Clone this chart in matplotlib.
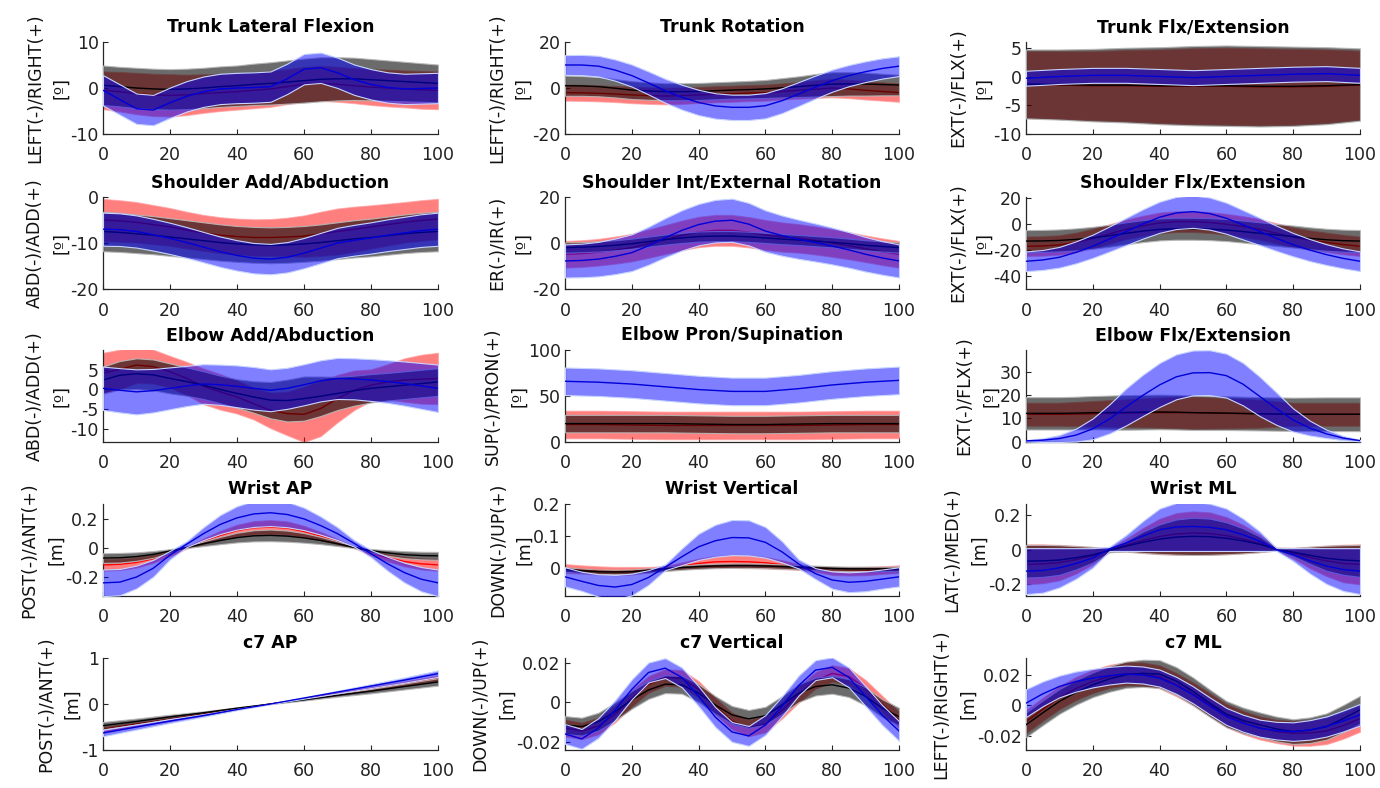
import numpy as np
import matplotlib
matplotlib.use("Agg")
import matplotlib.pyplot as plt
from matplotlib.ticker import FuncFormatter

plt.rcParams['font.family'] = ['DejaVu Sans']
plt.rcParams['axes.unicode_minus'] = False

# ---------------- sample points (% of cycle) ----------------
X10 = [0, 10, 20, 30, 40, 50, 60, 70, 80, 90, 100]
X5 = [0, 5, 10, 15, 20, 25, 30, 35, 40, 45, 50, 55, 60, 65, 70, 75, 80, 85, 90, 95, 100]

# ---------------- Trunk Lateral Flexion (X5) ----------------
tlf_ctrl_mean = [0.6, 0.3, 0.0, -0.2, -0.3, -0.2, 0.0, 0.3, 0.5, 0.8, 1.0, 1.3, 1.6, 1.9, 2.0, 2.0, 1.8, 1.6, 1.4, 1.2, 1.0]
tlf_ctrl_sd = [4.3, 4.3, 4.4, 4.4, 4.4, 4.4, 4.4, 4.4, 4.4, 4.5, 4.6, 4.7, 4.8, 4.8, 4.7, 4.6, 4.5, 4.4, 4.3, 4.2, 4.1]
tlf_red_mean = [-0.5, -0.8, -1.2, -1.5, -1.6, -1.5, -1.2, -1.0, -0.8, -0.5, -0.2, 0.3, 0.8, 1.0, 0.8, 0.5, 0.2, 0.0, -0.2, -0.4, -0.5]
tlf_red_sd = [4.1, 4.3, 4.5, 4.6, 4.6, 4.4, 4.2, 4.0, 3.9, 3.9, 3.9, 3.8, 3.8, 3.8, 3.8, 3.8, 3.9, 4.0, 4.0, 4.1, 4.1]
tlf_blue_mean = [-0.5, -2.5, -4.5, -4.8, -3.2, -1.8, -0.8, -0.2, 0.0, 0.1, 0.3, 2.0, 4.1, 4.4, 3.3, 1.8, 0.8, 0.1, -0.2, -0.1, 0.0]
tlf_blue_sd = [3.3, 3.3, 3.3, 3.3, 3.3, 3.3, 3.3, 3.3, 3.3, 3.3, 3.3, 3.3, 3.3, 3.3, 3.3, 3.3, 3.3, 3.3, 3.3, 3.3, 3.3]

# ---------------- Trunk Rotation (X5) ----------------
tr_ctrl_mean = [1.0, 0.9, 0.6, -0.1, -0.9, -1.3, -1.6, -1.6, -1.5, -1.2, -0.9, -0.7, -0.4, 0.1, 0.6, 1.2, 1.7, 1.8, 1.7, 1.5, 1.3]
tr_ctrl_sd = [4.4, 4.3, 4.2, 4.0, 3.9, 3.8, 3.7, 3.7, 3.7, 3.7, 3.7, 3.8, 3.9, 4.2, 4.5, 4.9, 5.2, 5.1, 5.0, 4.7, 4.5]
tr_red_mean = [-2.0, -2.1, -2.3, -2.6, -3.0, -3.3, -3.5, -3.3, -3.0, -2.7, -2.5, -2.2, -2.0, -1.5, -1.0, -0.5, 0.0, -0.4, -1.0, -1.5, -2.0]
tr_red_sd = [3.5, 3.5, 3.5, 3.5, 3.6, 3.6, 3.6, 3.6, 3.5, 3.5, 3.5, 3.5, 3.5, 3.5, 3.6, 3.8, 4.0, 4.0, 4.0, 4.0, 4.0]
tr_blue_mean = [10.0, 10.0, 9.5, 7.8, 5.4, 2.2, -1.2, -4.0, -6.3, -7.8, -8.4, -8.4, -7.7, -5.5, -2.6, 0.4, 3.2, 5.4, 7.1, 8.5, 9.5]
tr_blue_sd = [4.3, 4.4, 4.5, 4.6, 4.8, 5.0, 5.2, 5.4, 5.5, 5.5, 5.5, 5.5, 5.5, 5.4, 5.2, 5.0, 4.8, 4.6, 4.5, 4.4, 4.3]

# ---------------- Trunk Flx/Extension (X10) ----------------
tf_ctrl_mean = [-1.3, -1.4, -1.5, -1.5, -1.6, -1.6, -1.6, -1.7, -1.7, -1.6, -1.4]
tf_ctrl_sd = [6.0, 6.1, 6.3, 6.5, 6.7, 6.9, 7.0, 7.0, 6.9, 6.7, 6.3]
tf_red_mean = [-1.4, -1.5, -1.6, -1.6, -1.7, -1.7, -1.7, -1.8, -1.8, -1.7, -1.5]
tf_red_sd = [5.8, 5.9, 6.0, 6.2, 6.4, 6.6, 6.7, 6.7, 6.6, 6.4, 6.0]
tf_blue_mean = [-0.3, 0.0, 0.2, 0.2, 0.0, -0.2, 0.0, 0.2, 0.4, 0.5, 0.2]
tf_blue_sd = [1.3, 1.3, 1.3, 1.3, 1.3, 1.3, 1.3, 1.3, 1.3, 1.3, 1.3]

# ---------------- Shoulder Add/Abduction (X5) ----------------
sa_ctrl_mean = [-7.5, -7.7, -8.0, -8.3, -8.7, -9.1, -9.5, -9.9, -10.2, -10.4, -10.5, -10.4, -10.2, -9.9, -9.5, -9.1, -8.8, -8.4, -8.0, -7.7, -7.5]
sa_ctrl_sd = [4.3, 4.25, 4.2, 4.15, 4.1, 4.05, 4.0, 3.95, 3.9, 3.9, 3.9, 3.9, 3.9, 3.95, 4.0, 4.05, 4.1, 4.15, 4.2, 4.25, 4.3]
sa_red_mean = [-5.0, -5.2, -5.5, -6.0, -6.5, -7.2, -7.8, -8.3, -8.6, -8.8, -8.8, -8.7, -8.5, -8.0, -7.5, -7.0, -6.5, -6.0, -5.5, -5.1, -4.8]
sa_red_sd = [4.6, 4.5, 4.4, 4.25, 4.1, 4.0, 3.9, 3.9, 3.9, 3.95, 4.0, 4.2, 4.5, 4.8, 5.0, 4.9, 4.7, 4.55, 4.4, 4.4, 4.4]
sa_blue_mean = [-7.0, -7.1, -7.5, -8.2, -9.0, -9.9, -10.9, -11.9, -12.7, -13.3, -13.5, -13.1, -12.2, -11.1, -10.0, -9.4, -8.9, -8.3, -7.8, -7.3, -7.0]
sa_blue_sd = [3.6, 3.55, 3.5, 3.45, 3.4, 3.35, 3.3, 3.3, 3.3, 3.3, 3.3, 3.3, 3.3, 3.3, 3.3, 3.35, 3.4, 3.45, 3.5, 3.55, 3.6]

# ---------------- Shoulder Int/External Rotation (X5) ----------------
si_ctrl_mean = [-2.0, -1.8, -1.5, -1.0, -0.3, 0.6, 1.5, 2.2, 2.8, 3.0, 3.0, 2.7, 2.2, 1.7, 1.3, 0.8, 0.3, -0.3, -1.0, -1.5, -2.0]
si_ctrl_sd = [2.2, 2.2, 2.2, 2.2, 2.2, 2.2, 2.2, 2.2, 2.2, 2.2, 2.2, 2.2, 2.2, 2.2, 2.2, 2.2, 2.2, 2.2, 2.2, 2.2, 2.2]
si_red_mean = [-4.9, -4.6, -4.0, -3.1, -2.0, -0.3, 1.5, 3.3, 4.8, 5.5, 5.5, 4.7, 3.5, 2.6, 2.0, 1.1, 0.0, -1.2, -2.5, -3.8, -4.9]
si_red_sd = [5.8, 5.8, 5.8, 5.9, 6.0, 6.15, 6.3, 6.45, 6.6, 6.7, 6.7, 6.6, 6.5, 6.35, 6.2, 6.1, 6.0, 5.9, 5.8, 5.8, 5.8]
si_blue_mean = [-7.8, -7.6, -7.0, -5.8, -4.2, -1.2, 2.3, 5.5, 8.0, 9.5, 9.9, 8.2, 5.2, 3.2, 1.6, 0.2, -1.3, -3.0, -4.9, -6.5, -7.8]
si_blue_sd = [7.2, 7.3, 7.5, 7.75, 8.0, 8.25, 8.5, 8.75, 9.0, 9.25, 9.4, 9.25, 9.0, 8.75, 8.5, 8.25, 8.0, 7.75, 7.5, 7.3, 7.2]

# ---------------- Shoulder Flx/Extension (X5) ----------------
sf_ctrl_mean = [-13.0, -12.9, -12.5, -11.7, -10.5, -8.9, -7.0, -5.3, -4.0, -3.5, -3.5, -3.8, -4.5, -5.7, -7.0, -8.3, -9.5, -10.9, -12.0, -12.7, -13.0]
sf_ctrl_sd = [8.5, 8.5, 8.5, 8.5, 8.5, 8.5, 8.5, 8.5, 8.5, 8.5, 8.5, 8.5, 8.5, 8.5, 8.5, 8.5, 8.5, 8.5, 8.5, 8.5, 8.5]
sf_red_mean = [-17.0, -16.8, -16.0, -14.0, -11.0, -7.5, -4.0, -1.2, 1.0, 2.0, 2.0, 1.3, 0.0, -1.8, -4.0, -7.0, -10.0, -12.2, -14.0, -15.7, -17.0]
sf_red_sd = [7.5, 7.5, 7.5, 7.5, 7.5, 7.5, 7.5, 7.75, 8.0, 8.0, 8.0, 8.0, 8.0, 8.0, 8.0, 7.75, 7.5, 7.5, 7.5, 7.5, 7.5]
sf_blue_mean = [-28.6, -27.6, -25.5, -21.7, -17.0, -11.4, -5.6, 0.2, 5.4, 8.7, 9.7, 8.2, 4.6, -0.5, -5.6, -10.9, -15.8, -20.0, -23.5, -26.4, -28.6]
sf_blue_sd = [7.6, 7.7, 8.0, 8.5, 9.0, 9.7, 10.5, 11.3, 12.0, 12.4, 12.5, 12.4, 12.0, 11.3, 10.5, 9.7, 9.0, 8.5, 8.0, 7.7, 7.6]

# ---------------- Elbow Add/Abduction (X5) ----------------
ea_ctrl_mean = [2.4, 3.6, 4.0, 3.7, 2.8, 2.0, 1.1, 0.0, -1.0, -1.9, -2.7, -2.8, -2.3, -1.7, -1.0, -0.3, 0.3, 0.7, 1.1, 1.5, 1.9]
ea_ctrl_sd = [3.4, 3.6, 3.9, 3.9, 3.8, 3.6, 3.5, 3.5, 3.6, 4.0, 4.6, 5.3, 5.6, 5.0, 4.2, 3.8, 3.6, 3.5, 3.5, 3.5, 3.5]
ea_red_mean = [4.1, 5.1, 6.2, 5.8, 4.5, 2.8, 0.8, -0.6, -1.9, -3.6, -5.3, -6.1, -6.3, -4.8, -2.3, -0.2, 1.1, 1.9, 2.4, 2.6, 2.8]
ea_red_sd = [5.2, 5.0, 4.5, 4.3, 4.0, 4.2, 4.5, 4.5, 4.2, 4.0, 4.5, 5.5, 7.0, 7.0, 6.0, 5.0, 4.0, 4.5, 5.5, 6.2, 6.5]
ea_blue_mean = [0.3, -0.2, -0.6, -0.3, 0.3, 0.9, 1.4, 1.2, 0.8, 0.3, -0.2, 0.3, 1.2, 2.2, 2.8, 2.7, 2.4, 2.0, 1.5, 0.9, 0.3]
ea_blue_sd = [5.5, 5.6, 5.7, 5.5, 5.3, 5.1, 5.0, 5.1, 5.3, 5.4, 5.3, 5.2, 5.2, 5.2, 5.2, 5.2, 5.3, 5.4, 5.6, 5.8, 6.0]

# ---------------- Elbow Pron/Supination (X10) ----------------
ep_ctrl_mean = [20.0, 20.0, 20.0, 20.0, 19.5, 19.0, 19.0, 19.5, 20.0, 20.0, 20.0]
ep_ctrl_sd = [9.5, 9.5, 9.5, 9.5, 9.5, 9.5, 9.5, 9.5, 9.5, 9.5, 9.5]
ep_red_mean = [19.0, 19.0, 18.5, 18.0, 18.0, 18.0, 18.0, 18.0, 18.5, 19.0, 19.0]
ep_red_sd = [15.0, 15.0, 15.0, 15.0, 15.0, 15.0, 15.0, 15.0, 15.0, 15.0, 15.0]
ep_blue_mean = [66.0, 65.0, 63.0, 60.0, 57.0, 55.0, 55.0, 58.0, 62.0, 65.0, 67.0]
ep_blue_sd = [15.0, 15.0, 15.0, 15.0, 15.0, 15.0, 15.0, 15.0, 15.0, 15.0, 15.0]

# ---------------- Elbow Flx/Extension (X5) ----------------
ef_ctrl_mean = [12.2, 12.2, 12.2, 12.3, 12.5, 12.55, 12.6, 12.7, 12.8, 12.7, 12.5, 12.4, 12.3, 12.15, 12.0, 11.9, 11.8, 11.8, 11.8, 11.8, 11.8]
ef_ctrl_sd = [7.0, 7.0, 7.0, 7.1, 7.2, 7.35, 7.5, 7.5, 7.5, 7.5, 7.5, 7.4, 7.3, 7.25, 7.2, 7.2, 7.2, 7.25, 7.3, 7.3, 7.3]
ef_red_mean = [11.8, 11.8, 11.8, 11.9, 12.0, 12.15, 12.3, 12.4, 12.5, 12.5, 12.5, 12.35, 12.2, 12.1, 12.0, 11.9, 11.8, 11.8, 11.8, 11.8, 11.8]
ef_red_sd = [5.0, 5.0, 5.0, 5.25, 5.5, 5.75, 6.0, 6.25, 6.5, 6.75, 7.0, 6.75, 6.5, 6.25, 6.0, 5.5, 5.0, 5.0, 5.0, 5.0, 5.0]
ef_blue_mean = [0.3, 0.6, 1.3, 2.8, 5.5, 9.8, 15.0, 20.0, 24.5, 28.0, 29.7, 29.8, 28.5, 24.8, 19.5, 14.2, 9.3, 5.8, 3.3, 1.5, 0.4]
ef_blue_sd = [0.3, 0.8, 1.5, 2.8, 4.5, 6.3, 8.0, 8.9, 9.5, 9.7, 9.7, 9.7, 9.5, 9.2, 8.5, 7.0, 5.0, 3.2, 1.8, 0.9, 0.3]

# ---------------- Wrist AP (X5) ----------------
wa_ctrl_mean = [-0.07, -0.068, -0.06, -0.045, -0.022, 0.003, 0.028, 0.05, 0.07, 0.082, 0.085, 0.08, 0.068, 0.05, 0.028, 0.003, -0.02, -0.035, -0.047, -0.053, -0.055]
wa_ctrl_sd = [0.033, 0.033, 0.029, 0.023, 0.013, 0.005, 0.016, 0.025, 0.033, 0.038, 0.04, 0.038, 0.033, 0.025, 0.016, 0.005, 0.012, 0.019, 0.024, 0.026, 0.027]
wa_red_mean = [-0.117, -0.113, -0.1, -0.075, -0.04, 0.0, 0.045, 0.085, 0.118, 0.137, 0.142, 0.135, 0.112, 0.08, 0.042, 0.003, -0.035, -0.068, -0.094, -0.11, -0.117]
wa_red_sd = [0.04, 0.039, 0.035, 0.028, 0.017, 0.005, 0.019, 0.031, 0.04, 0.046, 0.048, 0.046, 0.039, 0.029, 0.018, 0.006, 0.016, 0.025, 0.033, 0.038, 0.04]
wa_blue_mean = [-0.24, -0.235, -0.2, -0.14, -0.05, 0.025, 0.097, 0.16, 0.205, 0.232, 0.24, 0.228, 0.198, 0.152, 0.097, 0.03, -0.04, -0.11, -0.17, -0.215, -0.24]
wa_blue_sd = [0.091, 0.09, 0.078, 0.058, 0.029, 0.02, 0.044, 0.065, 0.08, 0.089, 0.091, 0.087, 0.077, 0.062, 0.044, 0.022, 0.025, 0.048, 0.068, 0.083, 0.091]

# ---------------- Wrist Vertical (X5) ----------------
wv_ctrl_mean = [-0.005, -0.009, -0.012, -0.013, -0.012, -0.008, -0.003, 0.001, 0.004, 0.006, 0.007, 0.007, 0.006, 0.004, 0.002, 0.0, -0.002, -0.003, -0.003, -0.003, -0.003]
wv_ctrl_sd = [0.007, 0.007, 0.007, 0.007, 0.007, 0.007, 0.007, 0.007, 0.007, 0.007, 0.007, 0.007, 0.007, 0.007, 0.007, 0.007, 0.007, 0.007, 0.007, 0.007, 0.007]
wv_red_mean = [-0.002, -0.005, -0.008, -0.01, -0.009, -0.005, 0.0, 0.007, 0.014, 0.019, 0.02, 0.019, 0.016, 0.01, 0.003, -0.004, -0.01, -0.011, -0.01, -0.007, -0.004]
wv_red_sd = [0.014, 0.013, 0.013, 0.013, 0.012, 0.008, 0.006, 0.01, 0.015, 0.018, 0.02, 0.02, 0.018, 0.014, 0.009, 0.008, 0.012, 0.013, 0.013, 0.012, 0.012]
wv_blue_mean = [-0.028, -0.042, -0.055, -0.06, -0.052, -0.03, 0.002, 0.035, 0.066, 0.085, 0.095, 0.094, 0.08, 0.05, 0.012, -0.018, -0.038, -0.045, -0.042, -0.035, -0.028]
wv_blue_sd = [0.03, 0.03, 0.035, 0.038, 0.034, 0.023, 0.009, 0.026, 0.041, 0.05, 0.055, 0.055, 0.048, 0.033, 0.014, 0.017, 0.027, 0.031, 0.031, 0.03, 0.03]

# ---------------- Wrist ML (X5) ----------------
wm_ctrl_mean = [-0.067, -0.065, -0.06, -0.047, -0.03, -0.005, 0.02, 0.042, 0.06, 0.072, 0.076, 0.074, 0.065, 0.05, 0.03, 0.003, -0.015, -0.033, -0.05, -0.06, -0.065]
wm_ctrl_sd = [0.094, 0.092, 0.085, 0.067, 0.045, 0.011, 0.031, 0.061, 0.085, 0.101, 0.107, 0.104, 0.092, 0.072, 0.045, 0.008, 0.024, 0.049, 0.072, 0.085, 0.092]
wm_red_mean = [-0.085, -0.082, -0.075, -0.058, -0.035, -0.003, 0.025, 0.052, 0.075, 0.09, 0.095, 0.092, 0.08, 0.06, 0.035, 0.003, -0.02, -0.045, -0.065, -0.08, -0.085]
wm_red_sd = [0.115, 0.112, 0.102, 0.08, 0.05, 0.008, 0.037, 0.072, 0.102, 0.12, 0.125, 0.122, 0.107, 0.082, 0.05, 0.008, 0.03, 0.062, 0.088, 0.108, 0.115]
wm_blue_mean = [-0.124, -0.12, -0.105, -0.08, -0.048, 0.004, 0.038, 0.078, 0.114, 0.13, 0.133, 0.128, 0.114, 0.085, 0.048, 0.0, -0.029, -0.065, -0.095, -0.115, -0.124]
wm_blue_sd = [0.132, 0.128, 0.113, 0.088, 0.056, 0.012, 0.046, 0.086, 0.122, 0.138, 0.141, 0.136, 0.122, 0.093, 0.056, 0.008, 0.037, 0.073, 0.103, 0.123, 0.132]

# ---------------- c7 AP (X10) ----------------
ca_ctrl_mean = [-0.47, -0.38, -0.28, -0.19, -0.09, 0.0, 0.09, 0.19, 0.28, 0.38, 0.48]
ca_ctrl_sd = [0.08, 0.064, 0.048, 0.032, 0.016, 0.002, 0.016, 0.032, 0.048, 0.064, 0.08]
ca_red_mean = [-0.55, -0.44, -0.33, -0.22, -0.11, 0.0, 0.11, 0.22, 0.33, 0.44, 0.56]
ca_red_sd = [0.06, 0.048, 0.036, 0.024, 0.012, 0.002, 0.012, 0.024, 0.036, 0.048, 0.06]
ca_blue_mean = [-0.63, -0.5, -0.37, -0.25, -0.12, 0.0, 0.13, 0.26, 0.39, 0.52, 0.66]
ca_blue_sd = [0.07, 0.056, 0.042, 0.028, 0.014, 0.002, 0.014, 0.028, 0.042, 0.056, 0.07]

# ---------------- c7 Vertical (X5) ----------------
cv_ctrl_mean = [-0.0115, -0.0123, -0.0098, -0.0047, 0.0012, 0.0062, 0.0091, 0.0088, 0.0046, -0.0014, -0.0064, -0.0084, -0.0068, -0.0014, 0.0046, 0.0079, 0.0088, 0.0071, 0.0029, -0.003, -0.0073]
cv_ctrl_sd = [0.0045, 0.0045, 0.0045, 0.0045, 0.0045, 0.0045, 0.0045, 0.0045, 0.0045, 0.0045, 0.0045, 0.0045, 0.0045, 0.0045, 0.0045, 0.0045, 0.0045, 0.0045, 0.0045, 0.0045, 0.0045]
cv_red_mean = [-0.013, -0.0145, -0.012, -0.006, 0.002, 0.009, 0.0125, 0.012, 0.0065, -0.002, -0.0095, -0.013, -0.011, -0.004, 0.004, 0.011, 0.0145, 0.013, 0.007, -0.001, -0.009]
cv_red_sd = [0.0042, 0.0042, 0.0042, 0.0042, 0.0042, 0.0042, 0.0042, 0.0042, 0.0042, 0.0042, 0.0042, 0.0042, 0.0042, 0.0042, 0.0042, 0.0042, 0.0042, 0.0042, 0.0042, 0.0042, 0.0042]
cv_blue_mean = [-0.016, -0.0185, -0.013, -0.004, 0.0065, 0.015, 0.0172, 0.0125, 0.003, -0.0075, -0.015, -0.017, -0.0115, -0.002, 0.0085, 0.0162, 0.0176, 0.0125, 0.003, -0.0065, -0.0145]
cv_blue_sd = [0.005, 0.005, 0.005, 0.005, 0.005, 0.005, 0.005, 0.005, 0.005, 0.005, 0.005, 0.005, 0.005, 0.005, 0.005, 0.005, 0.005, 0.005, 0.005, 0.005, 0.005]

# ---------------- c7 ML (X5) ----------------
cm_ctrl_mean = [-0.0125, -0.0048, 0.0026, 0.0085, 0.0134, 0.0172, 0.0199, 0.0208, 0.0203, 0.0158, 0.0091, 0.0015, -0.0056, -0.0097, -0.0125, -0.0152, -0.0169, -0.016, -0.0136, -0.0085, -0.0028]
cm_ctrl_sd = [0.008, 0.008, 0.008, 0.008, 0.008, 0.0083, 0.0085, 0.0088, 0.009, 0.009, 0.009, 0.0088, 0.0085, 0.0083, 0.008, 0.008, 0.008, 0.0083, 0.0085, 0.0088, 0.009]
cm_red_mean = [-0.0105, -0.0025, 0.005, 0.011, 0.0155, 0.0188, 0.0205, 0.0203, 0.0185, 0.0135, 0.0075, 0.0005, -0.0065, -0.011, -0.0145, -0.0168, -0.018, -0.0178, -0.0165, -0.013, -0.0085]
cm_red_sd = [0.0075, 0.0075, 0.0075, 0.0075, 0.0075, 0.0075, 0.0075, 0.0075, 0.0075, 0.0075, 0.0075, 0.0075, 0.0075, 0.0075, 0.0075, 0.0075, 0.008, 0.0083, 0.0085, 0.0085, 0.0085]
cm_blue_mean = [0.0015, 0.0075, 0.0123, 0.0155, 0.0177, 0.0193, 0.0203, 0.0197, 0.0177, 0.013, 0.0069, -0.0003, -0.0071, -0.0115, -0.0147, -0.0163, -0.0169, -0.0158, -0.0136, -0.01, -0.006]
cm_blue_sd = [0.009, 0.008, 0.007, 0.0065, 0.006, 0.0057, 0.0055, 0.0055, 0.0055, 0.0055, 0.0055, 0.0055, 0.0055, 0.0055, 0.0055, 0.0057, 0.006, 0.0063, 0.0065, 0.0068, 0.007]

# ---------------- panel text ----------------
titles = ["Trunk Lateral Flexion", "Trunk Rotation", "Trunk Flx/Extension",
          "Shoulder Add/Abduction", "Shoulder Int/External Rotation", "Shoulder Flx/Extension",
          "Elbow Add/Abduction", "Elbow Pron/Supination", "Elbow Flx/Extension",
          "Wrist AP", "Wrist Vertical", "Wrist ML",
          "c7 AP", "c7 Vertical", "c7 ML"]
ylabels = ["LEFT(-)/RIGHT(+)\n[º]", "LEFT(-)/RIGHT(+)\n[º]", "EXT(-)/FLX(+)\n[º]",
           "ABD(-)/ADD(+)\n[º]", "ER(-)/IR(+)\n[º]", "EXT(-)/FLX(+)\n[º]",
           "ABD(-)/ADD(+)\n[º]", "SUP(-)/PRON(+)\n[º]", "EXT(-)/FLX(+)\n[º]",
           "POST(-)/ANT(+)\n[m]", "DOWN(-)/UP(+)\n[m]", "LAT(-)/MED(+)\n[m]",
           "POST(-)/ANT(+)\n[m]", "DOWN(-)/UP(+)\n[m]", "LEFT(-)/RIGHT(+)\n[m]"]
yticks = [[-10, 0, 10], [-20, 0, 20], [-10, -5, 0, 5],
          [-20, -10, 0], [-20, 0, 20], [-40, -20, 0, 20],
          [-10, -5, 0, 5], [0, 50, 100], [0, 10, 20, 30],
          [-0.2, 0, 0.2], [0, 0.1, 0.2], [-0.2, 0, 0.2],
          [-1, 0, 1], [-0.02, 0, 0.02], [-0.02, 0, 0.02]]
ylims = [(-10, 10), (-20, 20), (-10, 6),
         (-20, 0), (-20, 20), (-50, 21),
         (-13.3, 10), (0, 100), (-0.2, 39.6),
         (-0.33, 0.3), (-0.088, 0.2), (-0.267, 0.262),
         (-1, 1), (-0.0241, 0.0223), (-0.0288, 0.0307)]
xticks = [0, 20, 40, 60, 80, 100]

panels = [
    (X5, tlf_red_mean, tlf_red_sd, tlf_ctrl_mean, tlf_ctrl_sd, tlf_blue_mean, tlf_blue_sd),
    (X5, tr_red_mean, tr_red_sd, tr_ctrl_mean, tr_ctrl_sd, tr_blue_mean, tr_blue_sd),
    (X10, tf_red_mean, tf_red_sd, tf_ctrl_mean, tf_ctrl_sd, tf_blue_mean, tf_blue_sd),
    (X5, sa_red_mean, sa_red_sd, sa_ctrl_mean, sa_ctrl_sd, sa_blue_mean, sa_blue_sd),
    (X5, si_red_mean, si_red_sd, si_ctrl_mean, si_ctrl_sd, si_blue_mean, si_blue_sd),
    (X5, sf_red_mean, sf_red_sd, sf_ctrl_mean, sf_ctrl_sd, sf_blue_mean, sf_blue_sd),
    (X5, ea_red_mean, ea_red_sd, ea_ctrl_mean, ea_ctrl_sd, ea_blue_mean, ea_blue_sd),
    (X10, ep_red_mean, ep_red_sd, ep_ctrl_mean, ep_ctrl_sd, ep_blue_mean, ep_blue_sd),
    (X5, ef_red_mean, ef_red_sd, ef_ctrl_mean, ef_ctrl_sd, ef_blue_mean, ef_blue_sd),
    (X5, wa_red_mean, wa_red_sd, wa_ctrl_mean, wa_ctrl_sd, wa_blue_mean, wa_blue_sd),
    (X5, wv_red_mean, wv_red_sd, wv_ctrl_mean, wv_ctrl_sd, wv_blue_mean, wv_blue_sd),
    (X5, wm_red_mean, wm_red_sd, wm_ctrl_mean, wm_ctrl_sd, wm_blue_mean, wm_blue_sd),
    (X10, ca_red_mean, ca_red_sd, ca_ctrl_mean, ca_ctrl_sd, ca_blue_mean, ca_blue_sd),
    (X5, cv_red_mean, cv_red_sd, cv_ctrl_mean, cv_ctrl_sd, cv_blue_mean, cv_blue_sd),
    (X5, cm_red_mean, cm_red_sd, cm_ctrl_mean, cm_ctrl_sd, cm_blue_mean, cm_blue_sd),
]

# ---------------- styling ----------------
RED_FACE, RED_EDGE, RED_LINE = (1, 0, 0, 0.5), (1, 0.62, 0.62, 0.7), (1, 0, 0)
GRAY_FACE, GRAY_EDGE, GRAY_LINE = (0, 0, 0, 0.58), (0.72, 0.72, 0.72, 0.9), (0, 0, 0)
BLUE_FACE, BLUE_EDGE, BLUE_LINE = (0, 0, 1, 0.5), (0.78, 0.83, 1.0, 1.0), (0, 0, 0.85)

W, H = 1380, 788
col_left = [103, 565, 1026]
col_w = [335, 334, 334]
row_top = [42, 197, 350, 504, 658]
ax_h = 92
AXC = (0.15, 0.15, 0.15)

fig = plt.figure(figsize=(W / 100, H / 100), dpi=100)
fmt = FuncFormatter(lambda v, p: "%g" % v)

for i, (x, rm, rs, cmn, cs, bm, bs) in enumerate(panels):
    r, c = divmod(i, 3)
    ax = fig.add_axes([col_left[c] / W, 1 - (row_top[r] + ax_h) / H, col_w[c] / W, ax_h / H])
    x = np.asarray(x, float)
    groups = [(rm, rs, RED_FACE, RED_EDGE, RED_LINE),
              (cmn, cs, GRAY_FACE, GRAY_EDGE, GRAY_LINE),
              (bm, bs, BLUE_FACE, BLUE_EDGE, BLUE_LINE)]
    for k, (m, s, fc, ec, lc) in enumerate(groups):
        m = np.asarray(m, float)
        s = np.asarray(s, float)
        ax.fill_between(x, m - s, m + s, facecolor=fc, edgecolor=ec, linewidth=0.8, zorder=2 + 2 * k)
        ax.plot(x, m, color=lc, lw=1.0, zorder=3 + 2 * k, solid_joinstyle="round")
    ax.set_xlim(0, 100)
    ax.set_ylim(*ylims[i])
    ax.set_xticks(xticks)
    ax.set_yticks(yticks[i])
    ax.xaxis.set_major_formatter(fmt)
    ax.yaxis.set_major_formatter(fmt)
    for sp in ("top", "right"):
        ax.spines[sp].set_visible(False)
    for sp in ("left", "bottom"):
        ax.spines[sp].set_color(AXC)
        ax.spines[sp].set_linewidth(0.9)
    ax.tick_params(direction="in", length=3.5, width=0.8, colors=AXC, labelsize=12.5, labelcolor="#222222")
    ax.tick_params(axis="x", pad=9)
    ax.tick_params(axis="y", pad=3)
    ax.set_title(titles[i], fontsize=12.5, fontweight="bold", pad=7)
    ax.set_ylabel(ylabels[i], fontsize=12.5, labelpad=0, linespacing=1.6, color="#111111")

fig.savefig("out.png", dpi=100)
